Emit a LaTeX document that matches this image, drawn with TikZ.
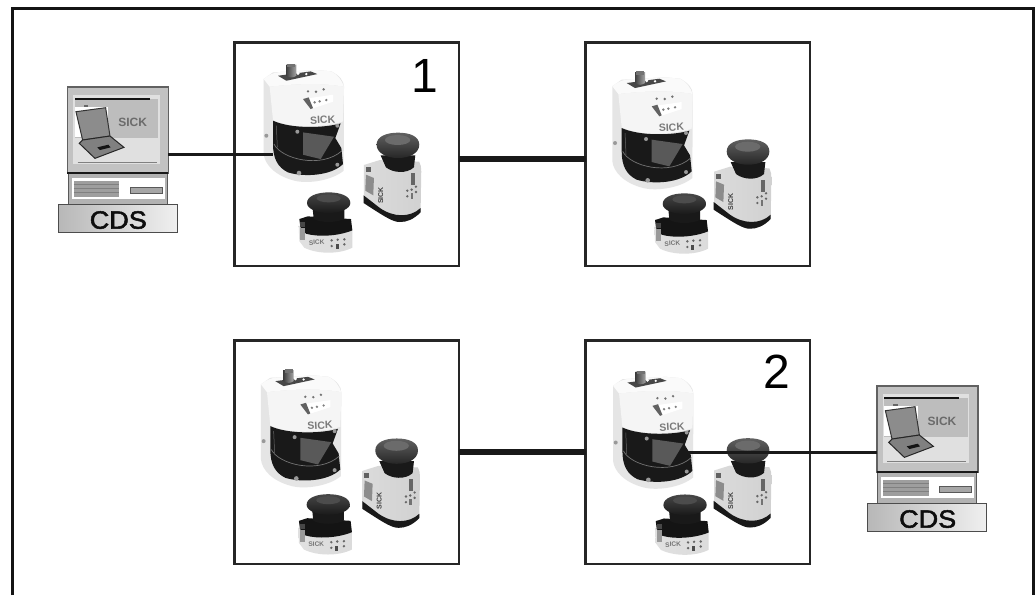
\documentclass[tikz,border=0pt]{standalone}
\usepackage{fontspec}
\setmainfont{Liberation Sans}
\newfontfamily\cdsfont[FakeBold=2]{Liberation Sans}
\tikzset{
  frameline/.style={line width=2.6pt,black!92},
  scanbox/.style={draw=black!85,line width=2.4pt,fill=white,minimum width=224.6pt,minimum height=223.6pt,inner sep=0pt,outer sep=0pt},
  pcbox/.style={draw=black!62,line width=1.6pt,fill=black!24,minimum width=101pt,minimum height=86pt,inner sep=0pt,outer sep=0pt},
  thinlink/.style={line width=3pt,black!90},
  thicklink/.style={line width=6pt,black!90},
  numlabel/.style={font=\fontsize{48}{48}\selectfont,black,inner sep=0pt},
  cdslabel/.style={font=\cdsfont\fontsize{25}{25}\selectfont,black!95,inner sep=0pt,xscale=1.08},
  sicktxt/.style={inner sep=0pt},
  zoomed/.style 2 args={shift={(#1,#2)},x=0.33333pt,y=-0.33333pt},
}
% coordinates inside are 3x pixel units, measured from the box corner at (17,14)
\newcommand{\bigscanner}[3]{%
\begin{scope}[zoomed={#2}{#3},shift={(-17,-14)}]
  \fill[black!10] (97,145) -- (125,125) -- (255,118) -- (300,122) .. controls (325,135) and (338,150) .. (338,170) -- (337,420) .. controls (300,450) and (230,460) .. (190,450) .. controls (130,435) and (100,400) .. (97,370) -- cycle;
  \fill[black!4] (115,168) .. controls (180,160) and (270,155) .. (338,168) -- (335,272) .. controls (280,290) and (180,295) .. (125,268) -- cycle;
  \fill[black!2] (97,145) .. controls (115,130) and (130,125) .. (145,124) -- (255,118) -- (300,122) .. controls (320,132) and (332,150) .. (338,168) .. controls (270,155) and (180,160) .. (115,168) -- cycle;
  \fill[black!72] (140,135) -- (238,122) -- (258,130) -- (165,150) -- cycle;
  \fill[white] (200,128) circle (5) (225,130) circle (4);
  \shade[left color=black!75,right color=black!35] (165,102) -- (195,102) -- (195,135) .. controls (185,142) and (175,142) .. (165,135) -- cycle;
  \fill[black!55] (168,100) rectangle (192,110);
  \fill[black!90] (125,270) .. controls (180,295) and (280,292) .. (328,278) -- (312,322) -- (330,352) -- (335,400) .. controls (300,435) and (220,440) .. (170,425) .. controls (140,410) and (125,385) .. (125,340) -- cycle;
  \fill[black!65] (215,305) -- (308,318) -- (268,385) -- (215,372) -- cycle;
  \draw[black!55,line width=.7pt] (128,340) .. controls (150,385) and (270,415) .. (332,360);
  \draw[black!60,line width=.5pt] (135,285) -- (138,350);
  \fill[black!40] (198,303) circle (6) (318,285) circle (6) (318,402) circle (6) (203,427) circle (7) (105,315) circle (6);
  \fill[white] (215,205) -- (305,192) -- (305,213) -- (238,235) -- cycle;
  \fill[black!62] (215,205) -- (232,200) -- (245,232) -- (238,235) -- cycle;
  \foreach \u/\v in {250/215,265/212,285/208} \fill[black!50] (\u,\v) circle (4);
  \foreach \u/\v in {230/182,254/183,277/176} \fill[black!55] (\u,\v) circle (4);
  \node[sicktxt,black!52,rotate=3,font=\bfseries\fontsize{10.5}{10.5}\selectfont] (#1big) at (274,268) {SICK};
\end{scope}}
\newcommand{\midscanner}[3]{%
\begin{scope}[zoomed={#2}{#3},shift={(-17,-14)}]
  \shade[left color=black!14,middle color=black!3,right color=black!18] (402,401) -- (450,386) -- (568,391) .. controls (573,400) and (574,410) .. (574,420) -- (572,541) .. controls (550,565) and (530,572) .. (510,572) .. controls (490,572) and (470,560) .. (402,515) -- cycle;
  \fill[black!90] (401,492) -- (450,530) .. controls (490,558) and (540,560) .. (572,530) -- (572,543) .. controls (550,565) and (530,572) .. (510,572) .. controls (490,572) and (470,560) .. (401,515) -- cycle;
  \fill[black!90] (452,372) -- (556,372) -- (552,408) .. controls (530,428) and (490,425) .. (468,408) -- cycle;
  \shade[top color=black!62,bottom color=black!85] (440,340) .. controls (440,315) and (470,304) .. (504,304) .. controls (540,304) and (568,315) .. (568,340) .. controls (568,365) and (540,380) .. (504,380) .. controls (470,380) and (440,365) .. (440,340) -- cycle;
  \fill[black!58] (503,326) ellipse (38 and 15);
  \fill[black!60] (542,425) rectangle (554,462);
  \fill[black!62] (407,408) rectangle (422,422);
  \fill[black!45] (408,430) -- (432,440) -- (430,492) -- (406,478) -- cycle;
  \foreach \u/\v in {532/478,545/475,558/466,532/495,558/482} \fill[black!60] (\u,\v) circle (4);
  \fill[black!55] (542,485) rectangle (550,503);
  \node[sicktxt,black!75,rotate=90,font=\bfseries\fontsize{7}{7}\selectfont] (#1mid) at (452,492) {SICK};
\end{scope}}
\newcommand{\smallscanner}[3]{%
\begin{scope}[zoomed={#2}{#3},shift={(-17,-14)}]
  \shade[left color=black!12,middle color=black!3,right color=black!14] (223,566) -- (384,575) -- (384,632) .. controls (345,652) and (280,652) .. (240,632) -- (225,612) -- cycle;
  \fill[black!92] (225,546) -- (250,538) -- (380,546) -- (384,580) .. controls (340,598) and (280,600) .. (245,590) -- (228,570) -- cycle;
  \fill[black!90] (265,515) -- (360,515) -- (360,545) .. controls (340,558) and (285,558) .. (268,545) -- cycle;
  \shade[top color=black!72,bottom color=black!90] (248,498) .. controls (248,476) and (280,466) .. (313,466) .. controls (346,466) and (378,476) .. (378,498) .. controls (378,516) and (346,528) .. (313,528) .. controls (280,528) and (248,516) .. (248,498) -- cycle;
  \fill[black!70] (313,484) ellipse (36 and 12);
  \fill[black!72] (228,556) rectangle (243,570);
  \fill[black!40] (228,574) rectangle (243,610);
  \foreach \u/\v in {322/610,340/608,360/607,322/627,360/622} \fill[black!60] (\u,\v) circle (4);
  \fill[black!70] (334,620) rectangle (343,636);
  \node[sicktxt,black!55,rotate=3,font=\bfseries\fontsize{6.5}{6.5}\selectfont] (#1small) at (277,616) {SICK};
\end{scope}}
% coordinates inside are 3x pixel units, measured from the monitor corner at (82,170)
\newcommand{\pcunit}[3]{%
\begin{scope}[zoomed={#2}{#3},shift={(-82,-170)}]
  \node[pcbox] (#1) at (233.5,299) {};
  \fill[black!12] (100,195) rectangle (360,402);
  \draw[black!50,line width=.8pt] (113,398) -- (350,398);
  \fill[black!26] (105,206) rectangle (355,325);
  \fill[black!92] (105,205) rectangle (330,211);
  \fill[white] (105,230) rectangle (205,322);
  \fill[black!60] (132,226) rectangle (145,232);
  \fill[black!45,draw=black!80,line width=1pt] (108,245) -- (197,233) -- (210,318) -- (128,330) -- cycle;
  \fill[black!50,draw=black!85,line width=1pt] (128,330) -- (210,318) -- (252,352) -- (165,385) -- (118,340) -- cycle;
  \fill[black!92] (172,352) -- (205,344) -- (212,352) -- (180,360) -- cycle;
  \node[sicktxt,black!58,font=\bfseries\fontsize{12}{12}\selectfont] (#1sick) at (278,276) {SICK};
  \fill[black!30,draw=black!65,line width=1pt] (85,428) rectangle (382,522);
  \draw[black!90,line width=1.6pt] (82,428) -- (385,428);
  \fill[white] (96,444) rectangle (375,506);
  \fill[black!38] (101,452) rectangle (238,500);
  \foreach \v in {462,474,486} \draw[black!50,line width=.4pt] (101,\v) -- (238,\v);
  \fill[black!35,draw=black!65,line width=1pt] (271,471) rectangle (367,489);
  \node[draw=black!70,line width=1.2pt,left color=black!28,right color=black!6,minimum width=119pt,minimum height=28.3pt,inner sep=0pt,outer sep=0pt] (#1base) at (234,565) {};
  \node[cdslabel] (#1cds) at (235,570) {CDS};
\end{scope}}
\begin{document}
\begin{tikzpicture}[x=1pt,y=-1pt]
  \useasboundingbox (0,0) rectangle (1035,595);
  \fill[white] (0,0) rectangle (1035,595);
  \coordinate (fa) at (12.3,595);
  \coordinate (fb) at (12.3,8.3);
  \coordinate (fc) at (1033.6,8.3);
  \coordinate (fd) at (1033.6,595);
  \draw[frameline] (fa) -- (fb) -- (fc) -- (fd);

  \node[scanbox] (box1) at (346.6,154.3) {};
  \node[scanbox] (box2) at (697.8,154.3) {};
  \node[scanbox] (box3) at (346.6,452.3) {};
  \node[scanbox] (box4) at (697.8,452.3) {};

  \bigscanner{a}{237}{35.4}
  \midscanner{a}{235.6}{36}
  \smallscanner{a}{230}{41.7}
  \bigscanner{b}{585.7}{42.7}
  \midscanner{b}{585.7}{42.7}
  \smallscanner{b}{585.7}{42.7}
  \bigscanner{c}{234.3}{340.8}
  \midscanner{c}{234.3}{341.8}
  \smallscanner{c}{229.6}{343.5}
  \bigscanner{d}{586.4}{342.2}
  \midscanner{d}{585.7}{341.5}
  \smallscanner{d}{586.4}{343.8}

  \node[numlabel] (num1) at (425,76) {1};
  \node[numlabel] (num2) at (777,372) {2};

  \pcunit{pc1}{67.3}{86.7}
  \pcunit{pc2}{876.7}{385.7}

  \coordinate (ya) at (0,154.3);
  \coordinate (yb) at (0,158.7);
  \coordinate (yc) at (0,452.3);
  \coordinate (scana) at (273,154.3);
  \coordinate (scand) at (685,452.3);
  \draw[thinlink] (pc1.east |- ya) -- (scana);
  \draw[thinlink] (scand) -- (pc2.west |- yc);
  \draw[thicklink] (box1.east |- yb) -- (box2.west |- yb);
  \draw[thicklink] (box3.east |- yc) -- (box4.west |- yc);
\end{tikzpicture}
\end{document}
